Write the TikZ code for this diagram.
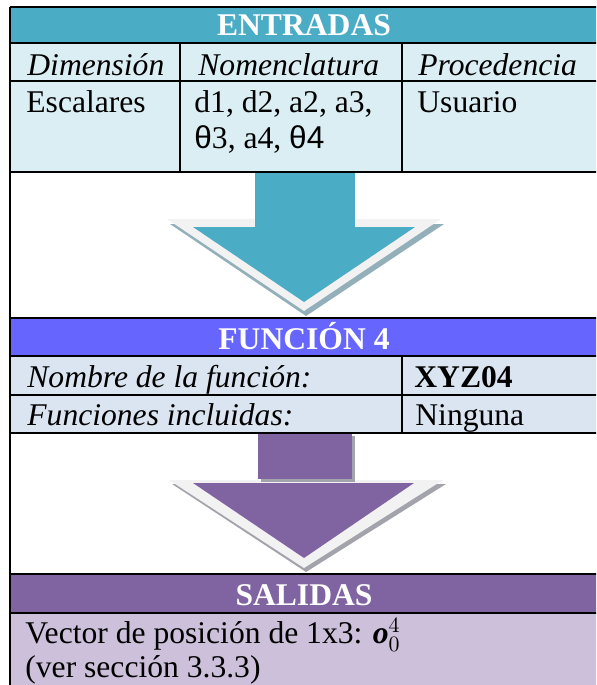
\documentclass[tikz,border=0pt]{standalone}
\usepackage{fontspec}
\setmainfont{Liberation Serif}
\newfontfamily\thetafont{Liberation Sans}
\usepackage{amsmath}
\usetikzlibrary{positioning}
\definecolor{tealhead}{HTML}{4BACC6}
\definecolor{tealrow}{HTML}{DAEEF3}
\definecolor{bluehead}{HTML}{6666FF}
\definecolor{bluerow}{HTML}{DBE5F1}
\definecolor{purplehead}{HTML}{8064A2}
\definecolor{purplerow}{HTML}{CCC0DA}
\definecolor{bevel}{HTML}{F2F2F2}
\definecolor{tealshadow}{RGB}{147,176,186}
\definecolor{purpleshadow}{RGB}{163,163,172}
\tikzset{
  txt/.style={anchor=base west, inner sep=0pt},
  colhead/.style={txt, font=\itshape},
  title/.style={anchor=base, inner sep=0pt, text=white, font=\bfseries},
  rule/.style={line width=1pt, draw=black},
}

\begin{document}
\fontsize{15.8}{19}\selectfont
\begin{tikzpicture}[x=0.5pt, y=-0.5pt]
  \clip (0,0) rectangle (596,685);
  \fill[white] (0,0) rectangle (596,685);

  % Cell fills
  \fill[tealhead] (10,7) rectangle (600,43);
  \fill[tealrow] (10,43) rectangle (600,172);
  \fill[bluehead] (10,318) rectangle (600,356);
  \fill[bluerow] (10,356) rectangle (600,433);
  \fill[purplehead] (10,574) rectangle (600,613);
  \fill[purplerow] (10,613) rectangle (600,690);

  % First arrow
  \fill[tealshadow] (170,224) -- (444,224) -- (306,316) -- cycle;
  \fill[bevel] (167,219) -- (441,219) -- (304,311) -- cycle;
  \fill[tealhead] (193,227) -- (415,227) -- (304,302) -- cycle;
  \fill[tealhead] (255,172) rectangle (355,227);

  % Second arrow
  \fill[purpleshadow] (172,484) -- (446,484) -- (306,572) -- cycle;
  \fill[bevel] (169,480) -- (443,480) -- (304,568) -- cycle;
  \fill[purplehead] (193,483) -- (414,483) -- (304,558) -- cycle;
  \fill[purpleshadow] (261,436) rectangle (355,482);
  \fill[purplehead] (258,433) rectangle (352,479);

  % Table rules
  \draw[rule] (10,7) -- (600,7);
  \draw[rule] (10,7) -- (10,690);
  \foreach \y in {43,81,172,318,356,395,433,574,613}
    \draw[rule] (10,\y) -- (600,\y);
  \draw[rule] (180,43) -- (180,172);
  \draw[rule] (402,43) -- (402,172);
  \draw[rule] (402,356) -- (402,433);

  % Inputs
  \node[title] (entradas) at (304,35) {ENTRADAS};
  \node[colhead] (dim) at (27,75) {Dimensión};
  \node[colhead] (nom) at (198,75) {Nomenclatura};
  \node[colhead] (proc) at (418,75) {Procedencia};
  \node[txt] (esc) at (26,112) {Escalares};
  \node[txt] (varsA) at (194,112) {d1, d2, a2, a3,};
  \node[txt] (varsB) at (194,148) {{\thetafont θ}3, a4, {\thetafont θ4}};
  \node[txt] (usuario) at (417,112) {Usuario};

  % Function
  \node[title] (funcion) at (304,349) {FUNCIÓN 4};
  \node[colhead] (nombre) at (27,387) {Nombre de la función:};
  \node[txt, font=\bfseries] (xyz) at (414,387) {XYZ04};
  \node[colhead] (incluidas) at (27,425) {Funciones incluidas:};
  \node[txt] (ninguna) at (415,425) {Ninguna};

  % Outputs
  \node[title] (salidas) at (304,605) {SALIDAS};
  \node[txt] (vector) at (25,643)
    {Vector de posición de 1x3: $\text{\bfseries\itshape o}_0^4$};
  \node[txt] (seccion) at (25,677) {(ver sección 3.3.3)};
\end{tikzpicture}
\end{document}
